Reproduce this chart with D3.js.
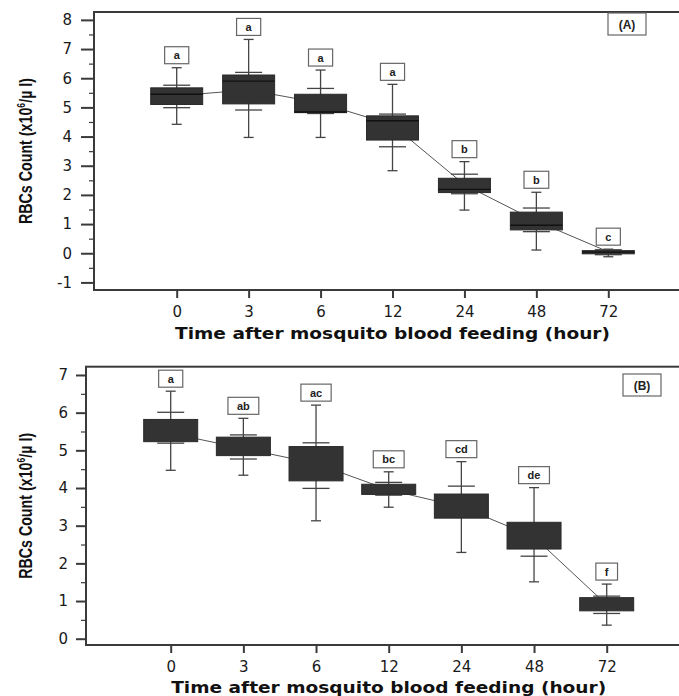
<!DOCTYPE html>
<html>
<head>
<meta charset="utf-8">
<title>RBCs Count after mosquito blood feeding</title>
<style>
body {
  margin: 0;
  background-color: white;
}

svg {
  display: block;
}

.tick text {
  font-family: "DejaVu Sans", sans-serif;
  font-size: 15px;
  fill: #1a1a1a;
}

.tick line {
  stroke: #3a3a3a;
  stroke-width: 2px;
}

.minor .tick line {
  stroke-width: 1.2px;
}
</style>
<script src="https://d3js.org/d3.v7.min.js"></script>
</head>
<body>

<svg width="679" height="696"></svg>

<script>
  const hours = ['0', '3', '6', '12', '24', '48', '72'];

  // panel (A)
  const aMax    = [6.36, 7.33, 6.28, 5.79, 3.14, 2.09, 0.14];
  const aUpper  = [5.76, 6.20, 5.65, 4.77, 2.71, 1.55, 0.12];
  const aQ3     = [5.67, 6.11, 5.45, 4.71, 2.57, 1.41, 0.09];
  const aMedian = [5.45, 5.90, 4.84, 4.54, 2.19, 0.96, 0.04];
  const aQ1     = [5.10, 5.12, 4.82, 3.88, 2.08, 0.80, -0.02];
  const aLower  = [4.99, 4.91, 4.79, 3.65, 2.04, 0.74, -0.05];
  const aMin    = [4.42, 3.97, 3.97, 2.83, 1.48, 0.11, -0.12];
  const aMean   = [5.40, 5.60, 5.15, 4.40, 2.35, 1.10, 0.05];
  const aLetters = ['a', 'a', 'a', 'a', 'b', 'b', 'c'];
  const aTicks = [-1, 0, 1, 2, 3, 4, 5, 6, 7, 8];

  // panel (B)
  const bMax    = [6.57, 5.85, 6.20, 4.43, 4.70, 4.01, 1.45];
  const bUpper  = [6.01, 5.41, 5.20, 4.15, 4.05, 3.00, 1.13];
  const bQ3     = [5.82, 5.35, 5.10, 4.10, 3.84, 3.09, 1.09];
  const bQ1     = [5.23, 4.86, 4.19, 3.83, 3.20, 2.38, 0.74];
  const bLower  = [5.19, 4.77, 3.99, 3.81, 3.25, 2.19, 0.67];
  const bMin    = [4.47, 4.34, 3.13, 3.49, 2.29, 1.51, 0.36];
  const bMean   = [5.45, 5.05, 4.65, 3.95, 3.50, 2.70, 0.90];
  const bLetters = ['a', 'ab', 'ac', 'bc', 'cd', 'de', 'f'];
  const bTicks = [0, 1, 2, 3, 4, 5, 6, 7];

  const xTitle = 'Time after mosquito blood feeding (hour)';

  const svg = d3.select('svg');

  function drawPanel(p) {
    const g = svg.append('g');
    const x = d3.scalePoint().domain(hours).range(p.xRange);
    const y = d3.scaleLinear().domain(p.yDomain).range([p.bottom, p.top]);

    const rows = hours.map((h, i) => ({
      h: h, max: p.max[i], upper: p.upper[i], q3: p.q3[i],
      median: p.median ? p.median[i] : null, q1: p.q1[i],
      lower: p.lower[i], min: p.min[i], mean: p.mean[i], letter: p.letters[i]
    }));

    // frame, right side runs off the page like the original
    g.append('rect')
      .attr('x', p.left).attr('y', p.top)
      .attr('width', 720 - p.left).attr('height', p.bottom - p.top)
      .attr('fill', 'none').attr('stroke', '#3a3a3a').attr('stroke-width', 2);

    // y axis: major + half-unit minor ticks (plain hyphen for -1)
    const yAxis = g.append('g')
      .attr('transform', `translate(${p.left},0)`)
      .call(d3.axisLeft(y).tickValues(p.ticks).tickFormat(d => String(d))
        .tickSize(p.majorLen).tickPadding(p.labelPad).tickSizeOuter(0));
    yAxis.select('.domain').remove();

    const minor = g.append('g')
      .attr('class', 'minor')
      .attr('transform', `translate(${p.left},0)`)
      .call(d3.axisLeft(y).tickValues(p.ticks.slice(0, -1).map(t => t + 0.5)).tickSize(5).tickFormat(''));
    minor.select('.domain').remove();

    // x axis
    const xAxis = g.append('g')
      .attr('transform', `translate(0,${p.bottom})`)
      .call(d3.axisBottom(x).tickSize(8).tickPadding(8).tickSizeOuter(0));
    xAxis.select('.domain').remove();

    // axis titles
    g.append('text')
      .attr('x', d3.mean(p.xRange)).attr('y', p.xTitleY)
      .attr('text-anchor', 'middle')
      .attr('font-family', '"DejaVu Sans", sans-serif')
      .attr('font-weight', 'bold').attr('font-size', 15)
      .attr('textLength', 435).attr('lengthAdjust', 'spacingAndGlyphs')
      .attr('fill', '#111')
      .text(xTitle);

    const yt = g.append('text')
      .attr('transform', `translate(32,${(p.top + p.bottom) / 2}) rotate(-90)`)
      .attr('text-anchor', 'middle')
      .attr('font-family', '"Liberation Sans", Arial, sans-serif')
      .attr('font-weight', 'bold').attr('font-size', 18)
      .attr('textLength', 146).attr('lengthAdjust', 'spacingAndGlyphs')
      .attr('fill', '#111');
    yt.append('tspan').text('RBCs Count (x10');
    yt.append('tspan').attr('font-size', 11).attr('dy', -7).text('6');
    yt.append('tspan').attr('dy', 7).text('/\u00b5 l)');

    // mean connecting line (behind the boxes)
    g.append('path')
      .datum(rows)
      .attr('fill', 'none').attr('stroke', '#555').attr('stroke-width', 1)
      .attr('d', d3.line().x(d => x(d.h)).y(d => y(d.mean)));

    const box = g.selectAll('.box').data(rows).enter().append('g')
      .attr('class', 'box')
      .attr('transform', d => `translate(${x(d.h)},0)`);

    // whisker
    box.append('line')
      .attr('y1', d => y(d.min)).attr('y2', d => y(d.max))
      .attr('stroke', '#444').attr('stroke-width', 1.3);
    // range caps
    box.selectAll('.cap').data(d => [d.min, d.max]).enter().append('line')
      .attr('x1', -5).attr('x2', 5)
      .attr('y1', v => y(v)).attr('y2', v => y(v))
      .attr('stroke', '#444').attr('stroke-width', 1.3);
    // inner percentile marks
    box.selectAll('.mark').data(d => [d.lower, d.upper]).enter().append('line')
      .attr('x1', -13.5).attr('x2', 13.5)
      .attr('y1', v => y(v)).attr('y2', v => y(v))
      .attr('stroke', '#444').attr('stroke-width', 1.3);

    // box body
    box.append('rect')
      .attr('x', -p.boxW / 2).attr('width', p.boxW)
      .attr('y', d => y(d.q3))
      .attr('height', d => Math.max(2, y(d.q1) - y(d.q3)))
      .attr('fill', '#333').attr('stroke', '#2a2a2a').attr('stroke-width', 1);

    if (p.median) {
      box.append('line')
        .attr('x1', -p.boxW / 2).attr('x2', p.boxW / 2)
        .attr('y1', d => y(d.median)).attr('y2', d => y(d.median))
        .attr('stroke', '#111').attr('stroke-width', 1.4);
    }

    // significance letters
    const lab = box.append('g')
      .attr('transform', d => `translate(0,${y(d.max) - 4})`);
    lab.append('text')
      .attr('y', -4.5)
      .attr('text-anchor', 'middle')
      .attr('font-family', '"Liberation Sans", Arial, sans-serif')
      .attr('font-weight', 'bold').attr('font-size', 11)
      .attr('fill', '#222')
      .text(d => d.letter);
    lab.insert('rect', 'text')
      .attr('x', function() { return -(this.parentNode.querySelector('text').getComputedTextLength() + 18) / 2; })
      .attr('width', function() { return this.parentNode.querySelector('text').getComputedTextLength() + 18; })
      .attr('y', -17).attr('height', 17)
      .attr('fill', 'white').attr('stroke', '#666').attr('stroke-width', 1.2);

    // panel tag
    const tag = g.append('g').attr('transform', `translate(${p.tagX},${p.tagY})`);
    tag.append('rect')
      .attr('width', 38).attr('height', 22)
      .attr('fill', 'white').attr('stroke', '#666').attr('stroke-width', 1.2);
    tag.append('text')
      .attr('x', 19).attr('y', 15.5)
      .attr('text-anchor', 'middle')
      .attr('font-family', '"Liberation Sans", Arial, sans-serif')
      .attr('font-weight', 'bold').attr('font-size', 12)
      .attr('fill', '#222')
      .text(p.tag);
  }

  drawPanel({
    max: aMax, upper: aUpper, q3: aQ3, median: aMedian, q1: aQ1, lower: aLower,
    min: aMin, mean: aMean, letters: aLetters, ticks: aTicks,
    left: 94, top: 12, bottom: 290, yDomain: [-1.26, 8.27],
    xRange: [176.7, 608.3], boxW: 52, majorLen: 13, labelPad: 9,
    xTitleY: 338.5, tag: '(A)', tagX: 608, tagY: 13
  });

  drawPanel({
    max: bMax, upper: bUpper, q3: bQ3, median: null, q1: bQ1, lower: bLower,
    min: bMin, mean: bMean, letters: bLetters, ticks: bTicks,
    left: 86, top: 366.7, bottom: 645, yDomain: [-0.167, 7.22],
    xRange: [170.7, 606.7], boxW: 54, majorLen: 10, labelPad: 8,
    xTitleY: 693, tag: '(B)', tagX: 623, tagY: 374
  });
</script>

</body>
</html>
